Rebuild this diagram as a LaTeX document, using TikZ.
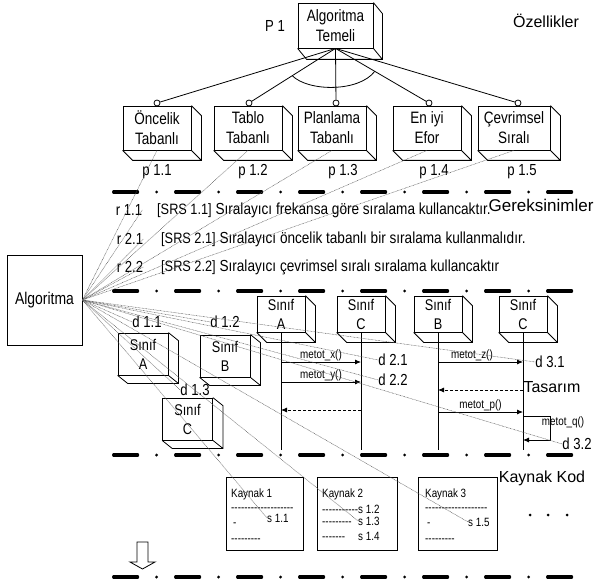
\documentclass[tikz,border=0pt]{standalone}
\usepackage{fontspec}
\setmainfont{Liberation Sans}[FakeStretch=0.82]
\newfontfamily\widefont{Liberation Sans}
\newfontfamily\reqfont{Liberation Sans}[FakeStretch=0.85]
\usetikzlibrary{arrows.meta,calc}
\newcommand{\fsz}[1]{\fontsize{#1}{#1}\selectfont}
% a row of #1 separate hyphens (kerns keep them from merging into dashes)
\newcommand{\hy}[1]{\ifnum#1>0 -\kern0pt\expandafter\hy\expandafter{\the\numexpr#1-1\relax}\fi}
% depth edges of a 3-D box drawn behind the front face of node #1
\newcommand{\extrude}[3]{%
  \draw[edge] (#1.north east) -- ++(#2,#3) -- ($(#1.south east)+(#2,#3)$)
    -- ($(#1.south west)+(#2,#3)$) -- (#1.south west)
    (#1.south east) -- ++(#2,#3);}

\begin{document}
\begin{tikzpicture}[x=1pt,y=-1pt,
  edge/.style={line width=0.8pt},
  cube/.style={draw, line width=0.8pt, align=center, inner sep=0pt,
    font=\fontsize{16.5}{20}\selectfont},
  feat/.style={cube, minimum width=68pt, minimum height=44pt},
  cls/.style={draw, line width=0.8pt, align=center, inner sep=0pt,
    minimum width=48pt, minimum height=36pt,
    font=\fontsize{15.5}{19}\selectfont},
  smallcls/.style={cls, minimum width=50pt, minimum height=42pt},
  knob/.style={circle, draw, fill=white, inner sep=0pt, minimum size=6pt, line width=0.8pt},
  lbl/.style={inner sep=0pt, font=\fsz{16}},
  big/.style={inner sep=0pt, font=\widefont\fsz{16}},
  mlbl/.style={inner sep=1pt, font=\fsz{12}},
  sep/.style={line width=3.2pt, line cap=round, dash pattern=on 24pt off 19pt on 0pt off 19pt},
  trace/.style={gray!70!black, line width=0.5pt, dash pattern=on 0.7pt off 0.7pt},
  msg/.style={line width=0.8pt, -{Latex[length=6pt,width=5pt]}},
  ret/.style={line width=0.8pt, dash pattern=on 3pt off 2pt, -{Latex[length=6pt,width=5pt]}},
  life/.style={line width=0.8pt},
  code/.style={inner sep=0pt, anchor=base west, font=\fsz{12}},
  req/.style={inner sep=0pt, anchor=west, font=\reqfont\fsz{16}},
]
\useasboundingbox (0,0) rectangle (594,585);

% ---------- features ----------
\node[cube, minimum width=75pt, minimum height=45pt] (top) at (335.5,25.5) {Algoritma\\Temeli};
\extrude{top}{9}{11}
\node[lbl] (P1) at (275,26) {P 1};
\node[big] (oz) at (546,21) {Özellikler};

\node[feat] (f1) at (157,128) {Öncelik\\Tabanlı};
\node[feat] (f2) at (248,128) {Tablo\\Tabanlı};
\node[feat] (f3) at (332,128) {Planlama\\Tabanlı};
\node[feat] (f4) at (427,128) {En iyi\\Efor};
\node[feat, minimum width=72pt] (f5) at (514,128) {Çevrimsel\\Sıralı};
\foreach \b in {f1,f2,f3,f4,f5} {\extrude{\b}{10}{10}}

\coordinate (hub) at (top.south);
\node[knob] (c1) at (157,103) {};
\node[knob] (c2) at (249,103) {};
\node[knob] (c3) at (336,103) {};
\node[knob] (c4) at (429,103) {};
\node[knob] (c5) at (518,103) {};
\foreach \c in {c1,c2,c3,c4,c5} {\draw[edge] (hub) -- (\c);}
\coordinate (aL) at ($(hub)!0.5!(c2)$);
\coordinate (aR) at ($(hub)!0.42!(c4)$);
\draw[edge] (aL) .. controls ($(aL)+(16,16)$) and ($(aR)+(-16,21)$) .. (aR);

\node[lbl] (p11) at (157,172) {p 1.1};
\node[lbl] (p12) at (253,172) {p 1.2};
\node[lbl] (p13) at (343,172) {p 1.3};
\node[lbl] (p14) at (434,172) {p 1.4};
\node[lbl] (p15) at (522,172) {p 1.5};

% ---------- layer separators ----------
\draw[sep] (113.6,192) -- (572,192);
\draw[sep] (113.6,291) -- (572,291);
\draw[sep] (113.6,455) -- (572,455);
\draw[sep] (113.6,577) -- (572,577);

% ---------- requirements ----------
\node[big, font=\widefont\fsz{17}] (ger) at (541,205) {Gereksinimler};
\node[lbl] (r11) at (129,210) {r 1.1};
\node[lbl] (r21) at (130,239) {r 2.1};
\node[lbl] (r22) at (130,267) {r 2.2};
\node[req] (t11) at (157,210)
  {{\fsz{15}[SRS 1.1]} Sıralayıcı frekansa göre sıralama kullancaktır.};
\node[req] (t21) at (161,239)
  {{\fsz{15}[SRS 2.1]} Sıralayıcı öncelik tabanlı bir sıralama kullanmalıdır.};
\node[req] (t22) at (161,267)
  {{\fsz{15}[SRS 2.2]} Sıralayıcı çevrimsel sıralı sıralama kullancaktır};

% ---------- root ----------
\node[draw, line width=0.8pt, minimum width=75pt, minimum height=90pt, inner sep=0pt,
  font=\fsz{17}] (alg) at (44.5,300) {Algoritma};
\coordinate (fan) at (alg.east);

% ---------- design ----------
\node[smallcls] (sA) at (143,354) {Sınıf\\A};
\node[smallcls] (sB) at (225,356) {Sınıf\\B};
\node[smallcls] (sC) at (187.5,419) {Sınıf\\C};
\foreach \b in {sA,sB,sC} {\extrude{\b}{10}{8}}
\node[lbl] (d11) at (147,322) {d 1.1};
\node[lbl] (d12) at (225,322) {d 1.2};
\node[lbl] (d13) at (195,390) {d 1.3};

\node[cls] (lA) at (281,314) {Sınıf\\A};
\node[cls] (lC1) at (361,314) {Sınıf\\C};
\node[cls] (lB) at (438,314) {Sınıf\\B};
\node[cls] (lC2) at (523,314) {Sınıf\\C};
\foreach \b in {lA,lC1,lB,lC2} {\extrude{\b}{10}{10}}

\coordinate (eA) at (281,450);
\coordinate (eC1) at (361,450);
\coordinate (eB) at (438,450);
\coordinate (eC2) at (523,450);
\draw[life] (lA.south) -- (eA);
\draw[life] (lC1.south) -- (eC1);
\draw[life] (lB.south) -- (eB);
\draw[life] (lC2.south) -- (eC2);

\coordinate (xA) at (281,362); \coordinate (xC) at (361,362);
\coordinate (yA) at (281,382); \coordinate (yC) at (361,382);
\coordinate (rA) at (281,410); \coordinate (rC) at (361,410);
\coordinate (zB) at (438,362); \coordinate (zC) at (523,362);
\coordinate (wB) at (438,390); \coordinate (wC) at (523,390);
\coordinate (pB) at (438,412); \coordinate (pC) at (523,412);
\coordinate (qS) at (523,416); \coordinate (qE) at (523,440);

\draw[msg] (xA) -- node[mlbl, above] {metot\_x()} (xC);
\draw[msg] (yA) -- node[mlbl, above] {metot\_y()} (yC);
\draw[ret] (rC) -- (rA);
\draw[msg] (zB) -- node[mlbl, above, pos=0.4] {metot\_z()} (zC);
\draw[ret] (wC) -- (wB);
\draw[msg] (pB) -- node[mlbl, above] {metot\_p()} (pC);
\draw[msg] (qS) -- ++(27,0) -- ++(0,24) -- (qE);
\node[mlbl] (mq) at (563,422) {metot\_q()};

\node[lbl] (d21) at (393,360) {d 2.1};
\node[lbl] (d22) at (393,380) {d 2.2};
\node[lbl] (d31) at (550,362) {d 3.1};
\node[lbl] (d32) at (577,444) {d 3.2};
\node[big] (tas) at (552,387) {Tasarım};

% ---------- source code ----------
\node[big] (kk) at (542,478) {Kaynak Kod};
\node[draw, line width=0.8pt, minimum width=77pt, minimum height=73pt, inner sep=0pt] (k1) at (264.5,513.5) {};
\node[draw, line width=0.8pt, minimum width=80pt, minimum height=73pt, inner sep=0pt] (k2) at (357,513.5) {};
\node[draw, line width=0.8pt, minimum width=79pt, minimum height=73pt, inner sep=0pt] (k3) at (457.5,513.5) {};

\node[code] (k1t) at (231,497) {Kaynak 1};
\node[code] (k1a) at (231,511) {\hy{19}};
\node[code] (k1b) at (233,526) {-};
\node[code] (s11) at (267,522) {s 1.1};
\node[code] (k1c) at (231,542) {\hy{9}};

\node[code] (k2t) at (322,497) {Kaynak 2};
\node[code] (k2a) at (322,513) {\hy{11}};
\node[code] (k2b) at (322,525) {\hy{9}};
\node[code] (k2c) at (322,540) {\hy{7}};
\node[code] (s12) at (358,513) {s 1.2};
\node[code] (s13) at (358,525) {s 1.3};
\node[code] (s14) at (358,540) {s 1.4};

\node[code] (k3t) at (425,497) {Kaynak 3};
\node[code] (k3a) at (425,511) {\hy{19}};
\node[code] (k3b) at (427,526) {-};
\node[code] (s15) at (468,526) {s 1.5};
\node[code] (k3c) at (425,542) {\hy{9}};

\foreach \x in {530,548,567} {\fill (\x,515) circle (1.5pt);}

% ---------- next level ----------
\draw[line width=0.8pt, fill=white] (137,542) -- (148,542) -- (148,562) -- (155,562)
  -- (142.5,569) -- (130,562) -- (137,562) -- cycle;

% ---------- trace links ----------
\foreach \t in {f1.south,f2.south,f3.south,f4.south,f5.south,
                r11.east,r21.east,r22.east,
                d11.west,d12.west,d13.west,d21.west,d22.west,d31.west,d32.west,
                s11.west,s13.west,s15.west}
  {\draw[trace] (fan) -- (\t);}
\end{tikzpicture}
\end{document}
